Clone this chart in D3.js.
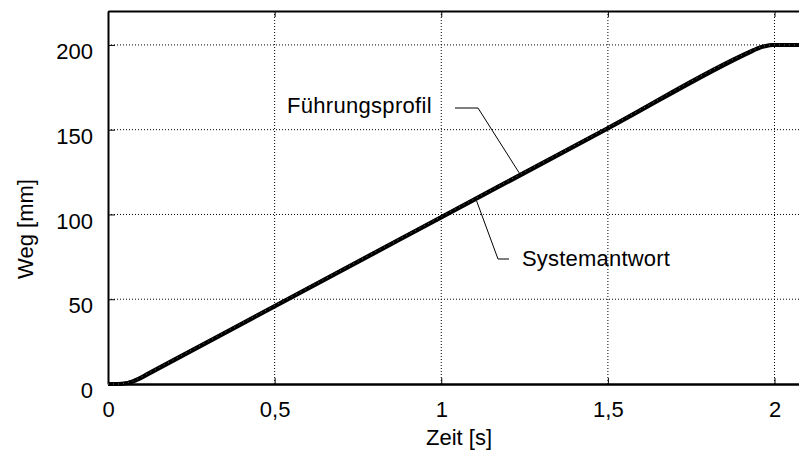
<!DOCTYPE html>
<html>
<head>
<meta charset="utf-8">
<script src="https://cdn.jsdelivr.net/npm/d3@7"></script>
<style>
  body { margin: 0; background: #fff; }
  svg { display: block; font-family: "Liberation Sans", Arial, sans-serif; }
</style>
</head>
<body>
<div id="chart"></div>
<script>
// data
const timeS      = [0, 0.03, 0.05, 0.07, 0.09, 0.12, 0.2,  0.5,  1.0,  1.5,   1.935, 1.955, 1.975, 1.995, 2.08];
const profileMm  = [0, 0,    0.35, 1.4,  3.15, 6.3,  14.7, 46.2, 98.7, 151.2, 196.9, 198.6, 199.6, 200,   200];
const responseMm = [0, 0,    0.25, 1.1,  2.7,  5.8,  14.2, 45.7, 98.2, 150.7, 196.5, 198.3, 199.4, 199.9, 200];
const xTicks = [0, 0.5, 1, 1.5, 2];
const yTicks = [0, 50, 100, 150, 200];

const W = 799, H = 454;
const M = {top: 11, right: 0, bottom: 70, left: 108};

const svg = d3.select('#chart').append('svg')
  .attr('width', W).attr('height', H);

const x = d3.scaleLinear().domain([0, 2.0735]).range([M.left, W - M.right]);
const y = d3.scaleLinear().domain([0, 220]).range([H - M.bottom, M.top]);

const fmt = d => String(d).replace('.', ',');

// dotted grid
svg.append('g').selectAll('line').data(xTicks.filter(d => d > 0)).join('line')
  .attr('x1', d => x(d)).attr('x2', d => x(d))
  .attr('y1', y.range()[1]).attr('y2', y.range()[0])
  .attr('stroke', '#000').attr('stroke-width', 1).attr('stroke-dasharray', '1,2');
svg.append('g').selectAll('line').data(yTicks.filter(d => d > 0)).join('line')
  .attr('x1', x.range()[0]).attr('x2', x.range()[1])
  .attr('y1', d => y(d)).attr('y2', d => y(d))
  .attr('stroke', '#000').attr('stroke-width', 1).attr('stroke-dasharray', '1,2');

// axes (ticks pointing inwards)
const xAxis = svg.append('g')
  .attr('transform', `translate(0,${y(0)})`)
  .call(d3.axisBottom(x).tickValues(xTicks).tickSize(-6).tickSizeOuter(0).tickPadding(14).tickFormat(fmt));
xAxis.select('.domain').attr('stroke-width', 2.5);
xAxis.selectAll('.tick text').attr('font-size', 22).attr('fill', '#000').attr('dy', '0.85em');

const topAxis = svg.append('g')
  .attr('transform', `translate(0,${M.top})`)
  .call(d3.axisTop(x).tickValues(xTicks).tickSize(-6).tickSizeOuter(0).tickFormat(''));
topAxis.select('.domain').attr('stroke-width', 2);

const yAxis = svg.append('g')
  .attr('transform', `translate(${x(0)},0)`)
  .call(d3.axisLeft(y).tickValues(yTicks).tickSize(-7).tickSizeOuter(0).tickPadding(15));
yAxis.select('.domain').attr('stroke-width', 2);
yAxis.selectAll('.tick text').attr('font-size', 22).attr('fill', '#000').attr('dy', '0.62em');

// curves
const line = d3.line().x((d, i) => x(timeS[i])).y(d => y(d)).curve(d3.curveMonotoneX);
svg.append('path').attr('d', line(responseMm))
  .attr('fill', 'none').attr('stroke', '#000').attr('stroke-width', 4);
svg.append('path').attr('d', line(profileMm))
  .attr('fill', 'none').attr('stroke', '#000').attr('stroke-width', 3.4);
svg.append('path').attr('d', line(profileMm))
  .attr('fill', 'none').attr('stroke', '#bbb').attr('stroke-width', 0.8)
  .attr('stroke-dasharray', '1,4').attr('opacity', 0.7);

// annotations
const ann = svg.append('g').attr('fill', 'none').attr('stroke', '#000').attr('stroke-width', 1);
ann.append('polyline').attr('points', `455,108 478,108 ${x(1.234)},${y(123.3) - 2}`);
ann.append('polyline').attr('points', `${x(1.106)},${y(109.8) + 3} 498,259 509,259`);

svg.append('text').attr('x', 287).attr('y', 113).attr('font-size', 22)
  .attr('letter-spacing', 0.3).text('Führungsprofil');
svg.append('text').attr('x', 522).attr('y', 266).attr('font-size', 22)
  .attr('letter-spacing', 0.2).text('Systemantwort');

// axis titles
svg.append('text').attr('x', 459).attr('y', 445).attr('text-anchor', 'middle')
  .attr('font-size', 22).text('Zeit [s]');
svg.append('text').attr('transform', 'translate(33,229) rotate(-90)')
  .attr('text-anchor', 'middle').attr('font-size', 22).text('Weg [mm]');
</script>
</body>
</html>
